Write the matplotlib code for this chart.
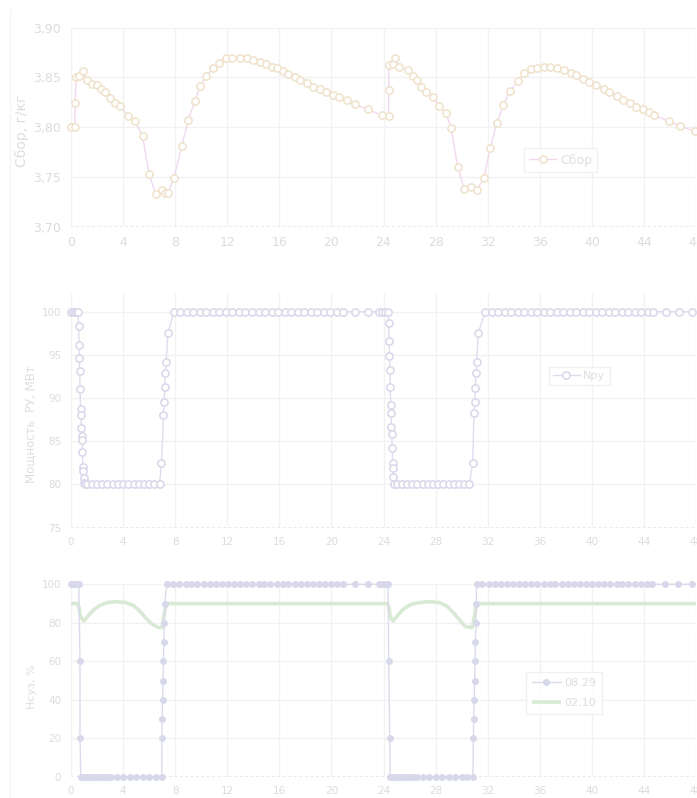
import matplotlib
matplotlib.use("Agg")
import matplotlib.pyplot as plt
from matplotlib.ticker import FuncFormatter
from matplotlib.lines import Line2D

# ---------------- data ----------------
t_sbor = [0, 0.3, 0.3, 0.4, 0.6, 0.9, 1.2, 1.6, 2.0, 2.3, 2.6, 3.0, 3.4, 3.8, 4.4, 4.9,
          5.5, 6.0, 6.5, 7.0, 7.2, 7.45, 7.9, 8.5, 9.0, 9.5, 9.9, 10.4, 10.9, 11.4, 11.9,
          12.4, 13.0, 13.5, 14.0, 14.5, 15.0, 15.4, 15.8, 16.3, 16.7, 17.2, 17.6, 18.1,
          18.6, 19.1, 19.6, 20.1, 20.6, 21.2, 21.8, 22.8, 23.85, 24.4, 24.4, 24.4, 24.7,
          24.9, 25.2, 25.9, 26.3, 26.6, 26.9, 27.3, 27.8, 28.3, 28.8, 29.2, 29.7, 30.2,
          30.7, 31.2, 31.7, 32.2, 32.7, 33.2, 33.7, 34.3, 34.8, 35.3, 35.8, 36.3, 36.8,
          37.3, 37.9, 38.4, 38.8, 39.3, 39.8, 40.3, 40.9, 41.3, 41.9, 42.4, 42.9, 43.4,
          43.9, 44.4, 44.8, 45.9, 46.8, 47.9]
sbor = [3.800, 3.800, 3.824, 3.850, 3.851, 3.856, 3.847, 3.843, 3.842, 3.838, 3.835, 3.829,
        3.824, 3.821, 3.811, 3.806, 3.791, 3.753, 3.733, 3.737, 3.734, 3.734, 3.749, 3.781,
        3.807, 3.826, 3.841, 3.851, 3.860, 3.865, 3.870, 3.870, 3.870, 3.870, 3.868, 3.866,
        3.864, 3.861, 3.859, 3.856, 3.853, 3.850, 3.847, 3.844, 3.840, 3.838, 3.835, 3.832,
        3.830, 3.827, 3.823, 3.818, 3.812, 3.811, 3.837, 3.863, 3.864, 3.870, 3.861, 3.857,
        3.851, 3.847, 3.840, 3.835, 3.830, 3.821, 3.814, 3.799, 3.760, 3.738, 3.740, 3.737,
        3.749, 3.779, 3.804, 3.822, 3.836, 3.846, 3.854, 3.858, 3.860, 3.861, 3.861, 3.859,
        3.857, 3.854, 3.852, 3.848, 3.845, 3.842, 3.838, 3.835, 3.831, 3.827, 3.824, 3.820,
        3.818, 3.815, 3.812, 3.806, 3.801, 3.796]

t_npy = [0, 0.15, 0.3, 0.45, 0.55,
         0.58, 0.61, 0.64, 0.67, 0.70, 0.73, 0.76, 0.79, 0.82, 0.85, 0.88, 0.91, 0.94, 0.97, 1.0, 1.05,
         1.2, 1.6, 2.0, 2.4, 2.8, 3.2, 3.6, 4.0, 4.4, 4.8, 5.2, 5.6, 6.0, 6.4, 6.8, 6.95,
         7.1, 7.15, 7.2, 7.25, 7.3, 7.45,
         7.9, 8.4, 8.9, 9.4, 9.9, 10.4, 10.9, 11.4, 11.9, 12.4, 12.9, 13.4, 13.9, 14.4, 14.9,
         15.4, 15.9, 16.4, 16.9, 17.4, 17.9, 18.4, 18.9, 19.4, 19.9, 20.4, 20.9, 21.8, 22.8,
         23.65, 23.9, 24.15, 24.35,
         24.40, 24.43, 24.46, 24.49, 24.52, 24.55, 24.58, 24.61, 24.64, 24.67, 24.70, 24.73,
         24.76, 24.80,
         25.0, 25.4, 25.8, 26.2, 26.6, 27.0, 27.4, 27.8, 28.2, 28.6, 29.0, 29.4, 29.8, 30.2,
         30.6, 30.85, 30.95, 31.0, 31.05, 31.1, 31.15, 31.28,
         31.8, 32.3, 32.8, 33.3, 33.8, 34.3, 34.8, 35.3, 35.8, 36.3, 36.8, 37.3, 37.8, 38.3,
         38.8, 39.3, 39.8, 40.3, 40.8, 41.3, 41.8, 42.3, 42.8, 43.3, 43.8, 44.3, 44.7, 45.7,
         46.7, 47.7]
npy = [100, 100, 100, 100, 100,
       98.4, 96.2, 94.6, 93.1, 91.0, 88.7, 88.0, 86.5, 85.6, 85.2, 83.8, 82.0, 81.6, 80.7, 80.2, 80.0,
       80, 80, 80, 80, 80, 80, 80, 80, 80, 80, 80, 80, 80, 80, 80, 82.5,
       88.0, 89.6, 91.3, 92.9, 94.2, 97.5,
       100, 100, 100, 100, 100, 100, 100, 100, 100, 100, 100, 100, 100, 100, 100,
       100, 100, 100, 100, 100, 100, 100, 100, 100, 100, 100, 100, 100, 100,
       100, 100, 100, 100,
       98.7, 96.6, 94.9, 93.3, 91.3, 89.2, 88.3, 86.7, 85.8, 84.2, 82.5, 81.9,
       80.9, 80.1,
       80, 80, 80, 80, 80, 80, 80, 80, 80, 80, 80, 80, 80, 80,
       80, 82.5, 88.3, 89.6, 91.2, 92.9, 94.2, 97.5,
       100, 100, 100, 100, 100, 100, 100, 100, 100, 100, 100, 100, 100, 100,
       100, 100, 100, 100, 100, 100, 100, 100, 100, 100, 100, 100, 100, 100,
       100, 100]

t_0829 = [0, 0.15, 0.3, 0.45, 0.6, 0.69, 0.69,
          0.75, 0.9, 1.05, 1.2, 1.35, 1.5, 1.7, 1.9, 2.1, 2.3, 2.5, 2.7, 2.9, 3.1, 3.5, 4.0,
          4.5, 5.0, 5.5, 6.0, 6.5, 6.97,
          6.98, 7.0, 7.03, 7.07, 7.1, 7.13, 7.17, 7.2,
          7.36, 7.85, 8.3, 8.8, 9.25, 9.7, 10.2, 10.65, 11.1, 11.6, 12.05, 12.5, 13.0, 13.45,
          13.9, 14.4, 14.85, 15.3, 15.8, 16.25, 16.7, 17.2, 17.65, 18.1, 18.6, 19.05, 19.5,
          20.0, 20.45, 20.9, 21.8, 22.8, 23.65, 23.9, 24.15, 24.35, 24.4, 24.48,
          24.52, 24.7, 24.9, 25.1, 25.3, 25.5, 25.7, 25.9, 26.1, 26.3, 26.6, 27.0, 27.5,
          28.0, 28.5, 29.0, 29.5, 30.0, 30.45, 30.87,
          30.9, 30.93, 30.96, 31.0, 31.03, 31.06, 31.1, 31.12,
          31.15, 31.6, 32.1, 32.55, 33.0, 33.5, 33.95, 34.4, 34.9, 35.35, 35.8, 36.3, 36.75,
          37.2, 37.7, 38.15, 38.6, 39.1, 39.55, 40.0, 40.5, 40.95, 41.4, 41.9, 42.35, 42.8,
          43.3, 43.75, 44.2, 44.6, 45.6, 46.65, 47.7]
h0829 = [100, 100, 100, 100, 100, 60, 20,
         0, 0, 0, 0, 0, 0, 0, 0, 0, 0, 0, 0, 0, 0, 0, 0,
         0, 0, 0, 0, 0, 0,
         20, 30, 40, 50, 60, 70, 80, 90,
         100, 100, 100, 100, 100, 100, 100, 100, 100, 100, 100, 100, 100, 100,
         100, 100, 100, 100, 100, 100, 100, 100, 100, 100, 100, 100, 100,
         100, 100, 100, 100, 100, 100, 100, 100, 100, 60, 20,
         0, 0, 0, 0, 0, 0, 0, 0, 0, 0, 0, 0, 0,
         0, 0, 0, 0, 0, 0, 0,
         20, 30, 40, 50, 60, 70, 80, 90,
         100, 100, 100, 100, 100, 100, 100, 100, 100, 100, 100, 100, 100,
         100, 100, 100, 100, 100, 100, 100, 100, 100, 100, 100, 100, 100,
         100, 100, 100, 100, 100, 100, 100]

t_0210 = [0, 0.5, 0.62, 0.7, 0.85, 1.0, 1.3, 1.7, 2.2, 2.8, 3.5, 4.2, 4.8, 5.3, 5.8,
          6.3, 6.7, 7.0, 7.1, 7.2, 7.3, 7.5, 24.3, 24.42, 24.5, 24.6, 24.75, 25.1, 25.6,
          26.1, 26.7, 27.5, 28.3, 28.9, 29.4, 29.9, 30.3, 30.8, 30.95, 31.05, 31.15, 31.3, 48]
h0210 = [90, 90, 88, 84, 82, 81, 83.5, 86.5, 89, 90.5, 91, 90.5, 89, 86, 82,
         79, 77.5, 77.5, 82, 86, 89, 90, 90, 88, 84, 82, 81, 84, 87.5,
         89.5, 90.5, 91, 90.5, 88.5, 85, 81, 78, 77.5, 82, 86, 89, 90, 90]

x_ticks = [0, 4, 8, 12, 16, 20, 24, 28, 32, 36, 40, 44, 48]
sbor_ticks = [3.70, 3.75, 3.80, 3.85, 3.90]
npy_ticks = [75, 80, 85, 90, 95, 100]
h_ticks = [0, 20, 40, 60, 80, 100]

# ---------------- style ----------------
W, H = 697, 798
fig = plt.figure(figsize=(W / 100, H / 100), dpi=100)
fig.patch.set_facecolor("white")

GRID = "#f2f2f2"
TICK = "#dcdcdc"
LBL = "#dedede"

def px_axes(left, top, right, bottom):
    return fig.add_axes([left / W, 1 - bottom / H, (right - left) / W, (bottom - top) / H])

def style(ax, ylim, yticks, fs, fmt=None):
    ax.set_xlim(0, 48)
    ax.set_ylim(*ylim)
    ax.set_xticks(x_ticks)
    ax.set_yticks(yticks)
    for s in ax.spines.values():
        s.set_visible(False)
    ax.grid(True, color=GRID, linewidth=1)
    ax.set_axisbelow(True)
    ax.tick_params(length=0, colors=TICK, labelsize=fs, pad=7)
    if fmt:
        ax.yaxis.set_major_formatter(FuncFormatter(fmt))
    ax.axhline(ylim[0], color="#e8e8e8", linestyle=(0, (1.2, 1.6)), linewidth=1.4, zorder=1)

def place_ylabel(ax, text, fs, right_px, center_px, top_px, bottom_px):
    # the label's right edge at right_px, its centre at y center_px (pixels from top)
    ax.set_ylabel(text, color=LBL, fontsize=fs)
    bb = ax.get_position()
    ax.yaxis.set_label_coords((right_px / W - bb.x0) / bb.width,
                              (bottom_px - center_px) / (bottom_px - top_px))

# Panel 1
ax1 = px_axes(71, 27.7, 696, 226.7)
style(ax1, (3.70, 3.90), sbor_ticks, 9, lambda v, p: f"{v:.2f}".replace(".", ","))
ax1.plot(t_sbor, sbor, color="#f2d8ef", linewidth=1, marker="o", markersize=5.2,
         markerfacecolor="white", markeredgecolor="#f0e4cf", markeredgewidth=1.2,
         label="Сбор", clip_on=False, zorder=3)
place_ylabel(ax1, "Сбор, г/кг", 10, 29, 131, 27.7, 226.7)
leg1 = ax1.legend(loc="center", bbox_to_anchor=(0.783, 0.335), fontsize=9, frameon=True,
                  fancybox=False, handlelength=2.2, borderpad=0.4, handletextpad=0.3)
leg1.get_frame().set_edgecolor("#ededed")
leg1.get_frame().set_linewidth(1)
for tx in leg1.get_texts():
    tx.set_color(LBL)

# Panel 2
ax2 = px_axes(71, 294.4, 696, 527.7)
style(ax2, (75, 102), npy_ticks, 7.5)
ax2.plot(t_npy, npy, color="#dddded", linewidth=1, marker="o", markersize=5.2,
         markerfacecolor="white", markeredgecolor="#dadaec", markeredgewidth=1.2,
         label="Nру", clip_on=False, zorder=3)
place_ylabel(ax2, "Мощность  РУ, МВт", 8.5, 37, 424, 294.4, 527.7)
leg2 = ax2.legend(loc="center", bbox_to_anchor=(0.813, 0.65), fontsize=8, frameon=True,
                  fancybox=False, handlelength=2.4, borderpad=0.4, handletextpad=0.3)
leg2.get_frame().set_edgecolor("#ededed")
for tx in leg2.get_texts():
    tx.set_color(LBL)

# Panel 3
ax3 = px_axes(71, 584.3, 696, 776.7)
style(ax3, (0, 100), h_ticks, 7.5)
ax3.plot(t_0829, h0829, color="#dbdbec", linewidth=1, marker="o", markersize=4,
         markerfacecolor="#d8d8eb", markeredgecolor="#d8d8eb",
         label="08.29", clip_on=False, zorder=3)
ax3.plot(t_0210, h0210, color="#d8ead4", linewidth=2.6, label="02.10",
         clip_on=False, zorder=2, solid_capstyle="butt")
place_ylabel(ax3, "Нсуз, %", 8, 37, 687, 584.3, 776.7)
leg3 = ax3.legend(loc="center", bbox_to_anchor=(0.789, 0.435), fontsize=8, frameon=True,
                  fancybox=False, handlelength=2.6, borderpad=0.5, handletextpad=0.3,
                  labelspacing=0.9)
leg3.get_frame().set_edgecolor("#ededed")
for tx in leg3.get_texts():
    tx.set_color(LBL)

# faint outer frame line on the left
fig.add_artist(Line2D([10 / W, 10 / W], [0, 1 - 10 / H], color="#f5f5f5", linewidth=1))

fig.savefig("out.png", dpi=100, facecolor="white")
